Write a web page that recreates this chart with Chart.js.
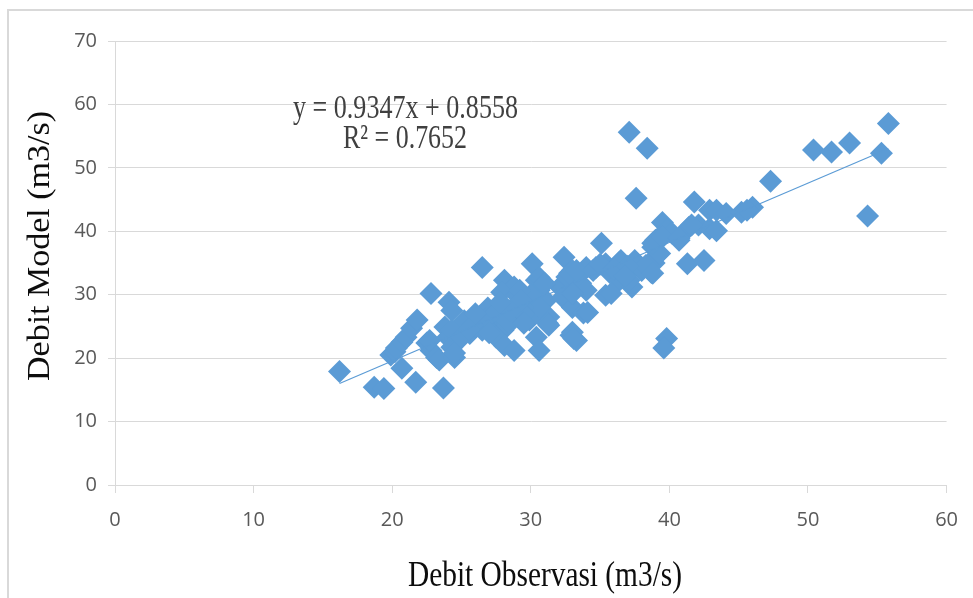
<!DOCTYPE html>
<html>
<head>
<meta charset="utf-8">
<script src="https://cdn.jsdelivr.net/npm/chart.js@4.4.0/dist/chart.umd.min.js"></script>
<style>
html,body{margin:0;padding:0;background:#fff;}
#wrap{position:relative;width:973px;height:598px;overflow:hidden;}
#frame{position:absolute;left:7px;top:9px;width:1100px;height:800px;border:2px solid #d9d9d9;}
canvas{position:absolute;left:0;top:0;}
</style>
</head>
<body>
<div id="wrap">
  <div id="frame"></div>
  <canvas id="scatterChart" width="973" height="598"></canvas>
</div>
<script>
// observed discharge (x) and model discharge (y), m3/s
var obsX = [
  16.2,18.7,19.4,20.7,21.7,23.7,19.9,20.2,20.3,20.7,
  21.0,21.4,21.8,22.5,22.8,23.2,23.4,22.7,23.8,24.0,
  24.3,24.5,24.5,24.1,24.3,22.8,26.5,30.1,32.4,28.1,
  28.8,27.9,29.0,25.2,24.3,25.6,25.0,26.3,26.9,27.2,
  26.5,27.7,28.0,27.5,28.1,28.8,28.7,29.2,29.9,29.9,
  30.4,30.6,30.4,30.6,30.2,31.1,31.3,31.2,32.1,32.3,
  32.6,33.0,33.0,32.9,33.3,33.6,33.8,37.6,41.8,35.1,
  39.5,39.8,40.2,40.7,39.0,38.8,39.1,38.9,38.7,41.4,
  42.1,42.9,43.4,41.3,42.5,34.0,34.7,35.4,35.7,36.5,
  36.6,36.4,37.3,37.5,38.0,38.3,35.4,35.8,34.0,34.1,
  39.8,39.6,37.1,38.4,47.3,50.4,51.7,53.0,55.3,55.8,
  54.3,42.9,43.4,44.1,45.2,46.0,45.6,39.3,30.6,31.0,
  30.0,30.6,31.3,29.4,29.5,33.0,33.1,32.8,33.3,33.0,
  37.1,38.8,39.3,38.8,39.5,40.7,41.6,36.4,29.2,29.3,
  26.0,26.8,27.5,28.3,28.5,29.5,27.0,25.8,26.0,34.5,
  35.0,36.0,37.0,36.8,25.5,27.8
];
var modelY = [
  17.9,15.4,15.2,18.4,16.2,15.3,20.5,21.0,21.6,22.5,
  23.3,24.7,26.0,22.4,21.2,20.1,19.7,22.8,24.9,23.3,
  21.7,20.1,20.8,28.8,27.5,30.2,34.3,34.9,35.9,32.3,
  31.2,30.4,29.9,25.9,24.4,23.9,23.2,26.5,27.9,25.5,
  24.4,26.5,24.4,23.3,22.0,21.2,26.0,27.0,28.0,26.0,
  23.3,21.2,32.3,30.7,29.1,29.1,26.5,25.5,31.2,29.6,
  32.8,33.8,28.0,23.6,22.8,31.8,27.1,45.2,44.6,38.1,
  41.4,40.2,39.7,38.6,38.6,37.5,36.2,35.0,33.5,40.6,
  41.0,40.4,40.1,34.9,35.4,34.3,34.3,34.9,33.5,35.4,
  33.5,32.3,31.2,35.4,33.8,34.6,29.9,30.2,30.7,27.2,
  23.1,21.6,55.6,53.1,47.9,52.8,52.5,53.9,52.3,57.0,
  42.4,43.3,43.3,42.8,43.0,43.8,43.3,39.1,32.7,31.8,
  30.0,28.0,25.2,28.0,27.0,24.1,23.1,33.4,33.8,30.2,
  32.3,33.4,36.5,38.1,39.1,38.9,41.0,35.1,30.7,29.1,
  25.0,26.2,27.3,25.8,27.5,25.5,24.0,25.2,27.0,33.8,
  34.8,34.0,34.5,33.0,24.5,28.8
];
// linear trendline from the chart: y = 0.9347x + 0.8558
var slope = 0.9347, intercept = 0.8558, r2 = 0.7652;
var trendX = [16.2, 55.8];

var blue = "#5b9bd5";
var gridGray = "#d9d9d9";

var points = [];
for (var i = 0; i < obsX.length; i++) {
  points.push({x: obsX[i], y: modelY[i]});
}
var trendPts = [];
for (var j = 0; j < trendX.length; j++) {
  trendPts.push({x: trendX[j], y: slope * trendX[j] + intercept});
}

// draw text centred at x, squeezed/stretched to a given width
function drawFitted(ctx, text, x, y, font, width, color, angle) {
  ctx.save();
  ctx.font = font;
  ctx.fillStyle = color;
  ctx.textAlign = "center";
  ctx.textBaseline = "alphabetic";
  ctx.translate(x, y);
  if (angle) ctx.rotate(angle);
  var w = ctx.measureText(text).width;
  ctx.scale(width / w, 1);
  ctx.fillText(text, 0, 0);
  ctx.restore();
}

var notes = {
  id: "notes",
  afterDraw: function(chart) {
    var ctx = chart.ctx;
    var serif = '"Liberation Serif", "Times New Roman", serif';
    drawFitted(ctx, "y = " + slope + "x + " + intercept, 405.5, 118, "34px " + serif, 225, "#404040");
    drawFitted(ctx, "R\u00b2 = " + r2, 405, 148, "34px " + serif, 124, "#404040");
    drawFitted(ctx, "Debit Observasi (m3/s)", 545, 586, "35px " + serif, 274, "#0d0d0d");
    drawFitted(ctx, "Debit Model (m3/s)", 49, 246, "31px " + serif, 270, "#0d0d0d", -Math.PI / 2);
  }
};

var ctx = document.getElementById("scatterChart").getContext("2d");
var scatterChart = new Chart(ctx, {
  type: "scatter",
  data: {
    datasets: [
      {
        label: "Linear",
        data: trendPts,
        showLine: true,
        borderColor: blue,
        borderWidth: 1.2,
        pointRadius: 0,
        fill: false,
        order: 0
      },
      {
        label: "Debit",
        data: points,
        pointStyle: "rectRot",
        pointRadius: 11.5,
        pointHoverRadius: 11.5,
        backgroundColor: blue,
        borderColor: blue,
        borderWidth: 0,
        order: 1
      }
    ]
  },
  options: {
    responsive: false,
    animation: false,
    devicePixelRatio: 1,
    layout: {padding: {top: 41, right: 25, left: 0, bottom: 0}},
    plugins: {
      legend: {display: false},
      tooltip: {enabled: false}
    },
    scales: {
      x: {
        type: "linear",
        min: 0,
        max: 60,
        ticks: {stepSize: 10, color: "#595959", font: {family: "Open Sans", size: 20}, padding: 15},
        grid: {drawOnChartArea: false, drawTicks: true, tickLength: 8, color: gridGray},
        border: {color: gridGray},
        afterFit: function(scale) { scale.height = 113; }
      },
      y: {
        min: 0,
        max: 70,
        ticks: {stepSize: 10, color: "#595959", font: {family: "Open Sans", size: 20}, padding: 11},
        grid: {color: gridGray, tickLength: 7},
        border: {color: gridGray},
        afterFit: function(scale) { scale.width = 115; }
      }
    }
  },
  plugins: [notes]
});
</script>
</body>
</html>
